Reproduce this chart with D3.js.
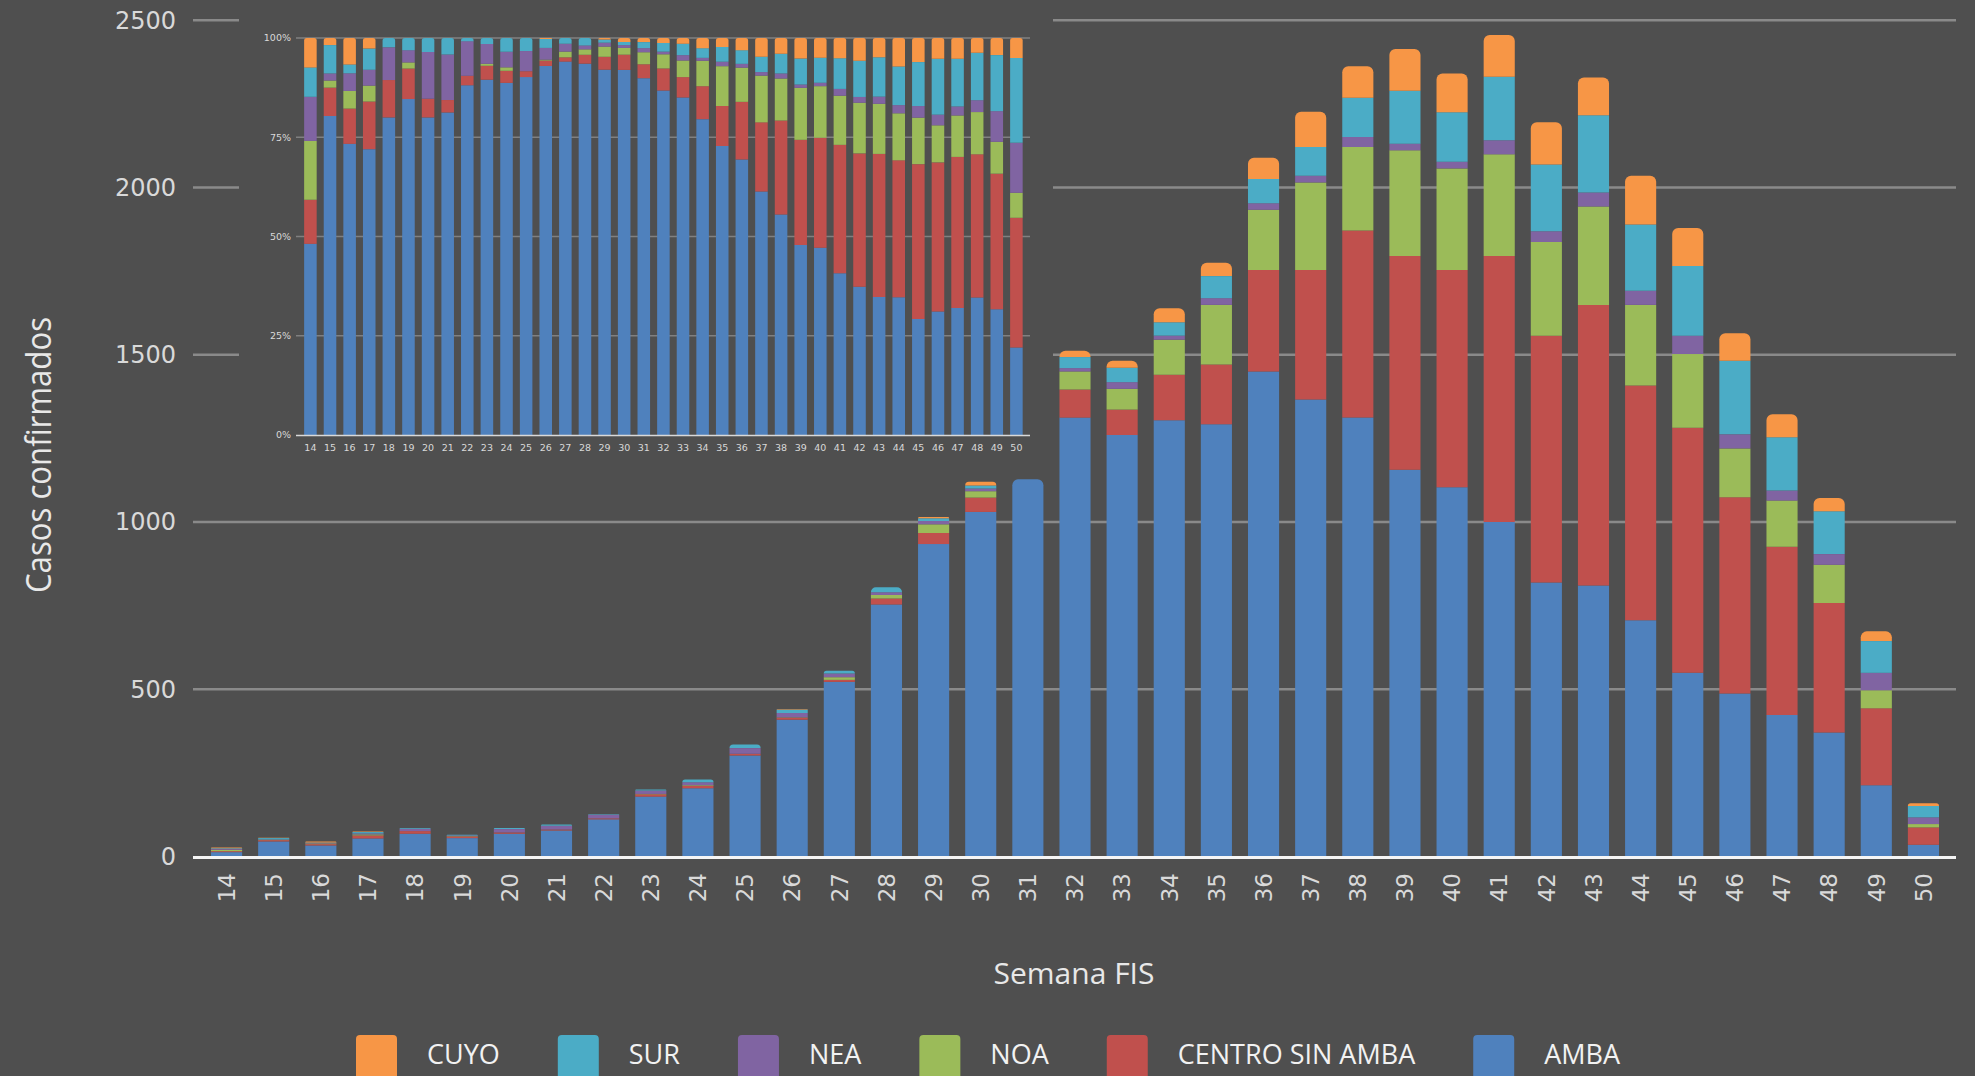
<!DOCTYPE html>
<html lang="es">
<head>
<meta charset="UTF-8">
<title>Casos confirmados por semana FIS</title>
<script src="https://d3js.org/d3.v7.min.js"></script>
<style>
    body { margin: 0; background: #4f4f4f; }
    svg { display: block; }
    .tick-label { font-family: "DejaVu Sans", sans-serif; fill: #d9d9d9; }
    .title { font-family: "Open Sans", sans-serif; fill: #e8e8e8; }
    .legend-text { font-family: "Open Sans", sans-serif; font-size: 27px; fill: #f2f2f2; }
</style>
</head>
<body>
<svg width="1975" height="1076"></svg>
<script>
    // semanas epidemiologicas (FIS)
    const weeks = [14, 15, 16, 17, 18, 19, 20, 21, 22, 23, 24, 25, 26, 27, 28, 29, 30, 31,
        32, 33, 34, 35, 36, 37, 38, 39, 40, 41, 42, 43, 44, 45, 46, 47, 48, 49, 50];

    // casos por region
    const amba = [13, 45, 33, 54, 68, 55, 68, 78, 111, 179, 204, 302, 409, 522, 753, 934, 1030, 1128,
        1312, 1260, 1304, 1292, 1450, 1366, 1312, 1156, 1104, 1000, 819, 810, 706, 549, 487, 423, 371, 213, 35];
    const centroSinAmba = [3, 4, 4, 9, 8, 5, 4, 3, 3, 7, 7, 5, 6, 6, 18, 33, 43, 44,
        84, 76, 136, 179, 303, 387, 559, 639, 649, 795, 738, 839, 702, 733, 587, 503, 387, 230, 52];
    const noa = [4, 1, 2, 3, 0, 1, 0, 0, 0, 1, 2, 0, 1, 8, 11, 26, 19, 38,
        54, 62, 105, 178, 180, 262, 250, 316, 304, 304, 280, 294, 241, 220, 146, 138, 114, 54, 10];
    const nea = [3, 1, 2, 3, 7, 2, 10, 11, 11, 10, 9, 17, 13, 11, 8, 10, 8, 13,
        10, 20, 12, 20, 20, 20, 30, 20, 20, 42, 32, 42, 42, 55, 42, 30, 32, 52, 20];
    const sur = [2, 4, 1, 4, 2, 2, 3, 4, 1, 3, 8, 11, 10, 8, 15, 8, 9, 19,
        33, 43, 40, 66, 72, 86, 117, 158, 148, 190, 200, 231, 198, 208, 220, 159, 128, 95, 34];
    const cuyo = [2, 1, 3, 2, 0, 0, 0, 0, 0, 0, 0, 0, 1, 0, 0, 4, 11, 13,
        19, 21, 42, 40, 64, 105, 94, 125, 116, 125, 126, 113, 146, 114, 82, 69, 40, 29, 8];

    // en el grafico principal la semana 31 aparece solo con AMBA
    const soloAmbaWeeks = [31];

    const keys = ["AMBA", "CENTRO SIN AMBA", "NOA", "NEA", "SUR", "CUYO"];
    const series = [amba, centroSinAmba, noa, nea, sur, cuyo];
    const colors = ["#4f81bd", "#c0504d", "#9bbb59", "#8064a2", "#4bacc6", "#f79646"];
    const legendOrder = ["CUYO", "SUR", "NEA", "NOA", "CENTRO SIN AMBA", "AMBA"];
    const yTicks = [0, 500, 1000, 1500, 2000, 2500];
    const pctTicks = [0, 0.25, 0.5, 0.75, 1];

    const color = d3.scaleOrdinal().domain(keys).range(colors);

    const fullRows = weeks.map((w, i) => {
        const row = { week: w };
        keys.forEach((k, j) => row[k] = series[j][i]);
        return row;
    });
    const mainRows = fullRows.map(r => {
        if (!soloAmbaWeeks.includes(r.week)) return r;
        const row = { week: r.week };
        keys.forEach(k => row[k] = k === "AMBA" ? r[k] : 0);
        return row;
    });

    const svg = d3.select("svg");
    svg.append("rect").attr("width", 1975).attr("height", 1076).attr("fill", "#4f4f4f");

    // path de barra con esquinas superiores redondeadas
    function roundTop(x, yTop, yBot, w, r) {
        r = Math.min(r, w / 2, yBot - yTop);
        return `M${x},${yBot}V${yTop + r}A${r},${r} 0 0 1 ${x + r},${yTop}H${x + w - r}` +
            `A${r},${r} 0 0 1 ${x + w},${yTop + r}V${yBot}Z`;
    }

    function drawStacks(g, rows, stacked, x, y, radius) {
        const topKey = {};
        rows.forEach(r => {
            let t = null;
            keys.forEach(k => { if (r[k] > 0) t = k; });
            topKey[r.week] = t;
        });
        g.selectAll("g.layer")
            .data(stacked)
            .join("g")
            .attr("class", "layer")
            .attr("fill", d => color(d.key))
            .each(function (layer) {
                d3.select(this).selectAll("path")
                    .data(layer.filter(d => d[1] - d[0] > 0))
                    .join("path")
                    .attr("d", d => {
                        const bx = x(d.data.week), bw = x.bandwidth();
                        const yt = y(d[1]), yb = y(d[0]);
                        if (topKey[d.data.week] === layer.key) return roundTop(bx, yt, yb, bw, radius);
                        return `M${bx},${yb}V${yt}H${bx + bw}V${yb}Z`;
                    });
            });
    }

    // ---- grafico principal ----
    const x = d3.scaleBand().domain(weeks).range([203, 1947]).paddingInner(0.34).paddingOuter(0.17);
    const y = d3.scaleLinear().domain([0, 2500]).range([856.5, 20.2]);

    svg.append("g").selectAll("line")
        .data(yTicks.filter(t => t > 0))
        .join("line")
        .attr("x1", 193).attr("x2", 1956)
        .attr("y1", d => y(d)).attr("y2", d => y(d))
        .attr("stroke", "#8a8a8a").attr("stroke-width", 2.5);

    svg.append("g").selectAll("text")
        .data(yTicks)
        .join("text")
        .attr("class", "tick-label")
        .attr("x", 176).attr("y", d => y(d))
        .attr("dy", "0.35em")
        .attr("text-anchor", "end")
        .style("font-size", "24px")
        .text(d => d);

    const mainStack = d3.stack().keys(keys)(mainRows);
    drawStacks(svg.append("g"), mainRows, mainStack, x, y, 6);

    svg.append("line")
        .attr("x1", 193).attr("x2", 1956)
        .attr("y1", 857.5).attr("y2", 857.5)
        .attr("stroke", "#f5f5f5").attr("stroke-width", 3);

    svg.append("g").selectAll("text")
        .data(weeks)
        .join("text")
        .attr("class", "tick-label")
        .attr("transform", d => `translate(${x(d) + x.bandwidth() / 2},873) rotate(-90)`)
        .attr("dy", "0.36em")
        .attr("text-anchor", "end")
        .style("font-size", "23px")
        .text(d => d);

    svg.append("text")
        .attr("class", "title")
        .attr("transform", "translate(51,455) rotate(-90)")
        .attr("text-anchor", "middle")
        .attr("textLength", 276)
        .attr("lengthAdjust", "spacingAndGlyphs")
        .style("font-size", "35px")
        .text("Casos confirmados");

    svg.append("text")
        .attr("class", "title")
        .attr("x", 1074).attr("y", 984)
        .attr("text-anchor", "middle")
        .style("font-size", "30px")
        .text("Semana FIS");

    // ---- recuadro con porcentajes ----
    svg.append("rect")
        .attr("x", 239).attr("y", 8)
        .attr("width", 814).attr("height", 460)
        .attr("fill", "#4f4f4f");

    const xi = d3.scaleBand().domain(weeks).range([300.6, 1026.2]).paddingInner(0.36).paddingOuter(0.18);
    const yi = d3.scaleLinear().domain([0, 1]).range([435, 38]);

    const inset = svg.append("g");
    inset.selectAll("line.grid")
        .data(pctTicks.filter(t => t > 0))
        .join("line")
        .attr("class", "grid")
        .attr("x1", 296).attr("x2", 1030)
        .attr("y1", d => yi(d)).attr("y2", d => yi(d))
        .attr("stroke", "#808080").attr("stroke-width", 1.5);

    inset.selectAll("text.ylab")
        .data(pctTicks)
        .join("text")
        .attr("class", "tick-label ylab")
        .attr("x", 291).attr("y", d => yi(d))
        .attr("dy", "0.35em")
        .attr("text-anchor", "end")
        .style("font-size", "9.5px")
        .text(d => Math.round(d * 100) + "%");

    const pctStack = d3.stack().keys(keys).offset(d3.stackOffsetExpand)(fullRows);
    drawStacks(inset.append("g"), fullRows, pctStack, xi, yi, 2.5);

    inset.append("line")
        .attr("x1", 296).attr("x2", 1030)
        .attr("y1", 435.5).attr("y2", 435.5)
        .attr("stroke", "#d9d9d9").attr("stroke-width", 1.5);

    inset.selectAll("text.xlab")
        .data(weeks)
        .join("text")
        .attr("class", "tick-label xlab")
        .attr("x", d => xi(d) + xi.bandwidth() / 2)
        .attr("y", 448)
        .attr("dy", "0.35em")
        .attr("text-anchor", "middle")
        .style("font-size", "9.5px")
        .text(d => d);

    // ---- leyenda ----
    const legend = svg.append("g");
    let lx = 356;
    legendOrder.forEach(k => {
        legend.append("rect")
            .attr("x", lx).attr("y", 1035)
            .attr("width", 41).attr("height", 48)
            .attr("rx", 4)
            .attr("fill", color(k));
        const t = legend.append("text")
            .attr("class", "legend-text")
            .attr("x", lx + 71).attr("y", 1055)
            .attr("dy", "0.35em")
            .text(k);
        lx += 71 + t.node().getComputedTextLength() + 58;
    });
</script>
</body>
</html>
